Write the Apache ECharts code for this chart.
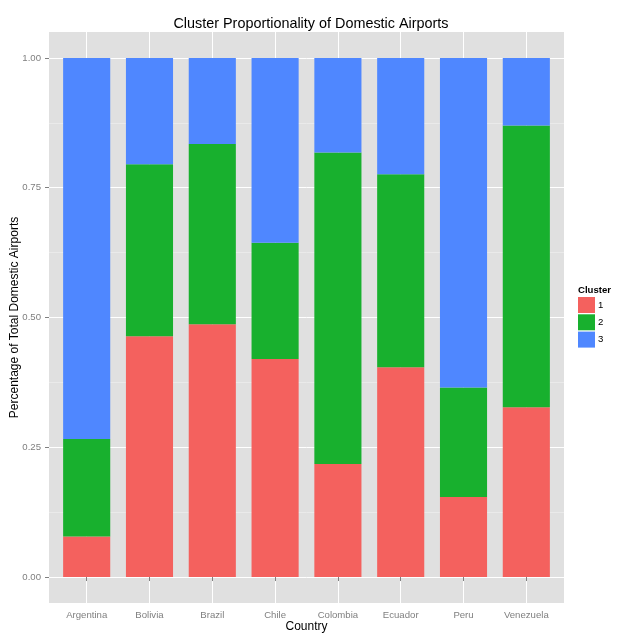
<!DOCTYPE html>
<html>
<head>
<meta charset="utf-8">
<script src="https://cdn.jsdelivr.net/npm/echarts@6/dist/echarts.min.js"></script>
<style>html,body{margin:0;padding:0;background:#fff}#c{width:640px;height:640px}</style>
</head>
<body>
<div id="c"></div>
<script>
const countries = ['Argentina','Bolivia','Brazil','Chile','Colombia','Ecuador','Peru','Venezuela'];
const cluster1 = [0.078, 0.464, 0.487, 0.420, 0.218, 0.404, 0.154, 0.327];
const cluster2 = [0.188, 0.331, 0.347, 0.224, 0.600, 0.372, 0.211, 0.543];
const cluster3 = [0.734, 0.205, 0.166, 0.356, 0.182, 0.224, 0.635, 0.130];
const yTicks = [0, 0.25, 0.5, 0.75, 1];
const yMinor = [0.125, 0.375, 0.625, 0.875];
const clusterNames = ['1','2','3'];
const colors = ['#F4615E', '#18B02E', '#4F87FF'];

const xPos = countries.map((c, i) => i + 1);
const chart = echarts.init(document.getElementById('c'), null, {renderer: 'canvas'});
const font = 'Liberation Sans, Arial, sans-serif';
// value first so that it is the stacked dimension; x position second
const mk = (vals, i) => ({
  name: clusterNames[i],
  type: 'bar',
  stack: 'total',
  barWidth: '75%',
  encode: {x: 1, y: 0},
  data: vals.map((v, k) => [v, xPos[k]]),
  itemStyle: {color: colors[i]},
  emphasis: {disabled: true},
  z: 3
});
chart.setOption({
  animation: false,
  backgroundColor: '#fff',
  title: {
    text: 'Cluster Proportionality of Domestic Airports',
    left: 306, top: 12, textAlign: 'center',
    textStyle: {fontFamily: font, fontSize: 14.4, fontWeight: 'normal', color: '#000'}
  },
  grid: {left: 49, right: 76, top: 32, bottom: 37, containLabel: false, outerBoundsMode: 'none',
    show: true, backgroundColor: '#E0E0E0', borderWidth: 0},
  legend: {
    orient: 'vertical', left: 578, top: 297, padding: 0,
    itemWidth: 17, itemHeight: 16, itemGap: 1.3, icon: 'rect',
    textStyle: {fontFamily: font, fontSize: 9.6, color: '#000', padding: [0,0,0,-2]},
    data: clusterNames
  },
  graphic: [{
    type: 'text', left: 578, top: 285,
    style: {text: 'Cluster', fontFamily: font, fontSize: 9.6, fontWeight: 'bold', fill: '#000'}
  }],
  xAxis: {
    type: 'value', min: 0.4, max: 8.6,
    name: 'Country', nameLocation: 'middle', nameGap: 18, nameMoveOverlap: false,
    nameTextStyle: {fontFamily: font, fontSize: 12, color: '#000'},
    axisLine: {show: false},
    axisTick: {show: true, customValues: xPos, length: 4, lineStyle: {color: '#7F7F7F'}},
    axisLabel: {customValues: xPos, formatter: v => countries[Math.round(v) - 1], margin: 7,
      fontFamily: font, fontSize: 9.6, color: '#7F7F7F'},
    splitLine: {show: true, lineStyle: {color: '#FFFFFF', width: 1}}
  },
  yAxis: [{
    type: 'value', min: -0.05, max: 1.05,
    name: 'Percentage of Total Domestic Airports', nameLocation: 'middle', nameGap: 28, nameMoveOverlap: false,
    nameTextStyle: {fontFamily: font, fontSize: 12, color: '#000'},
    axisLine: {show: false},
    axisTick: {show: true, customValues: yTicks, length: 4, lineStyle: {color: '#7F7F7F'}},
    axisLabel: {customValues: yTicks, formatter: v => v.toFixed(2), margin: 8,
      fontFamily: font, fontSize: 9.6, color: '#7F7F7F'},
    splitLine: {show: true, lineStyle: {color: '#FFFFFF', width: 1}}
  }, {
    type: 'value', min: -0.05, max: 1.05, position: 'left',
    axisLine: {show: false},
    axisTick: {show: false, customValues: yMinor},
    axisLabel: {show: false, customValues: yMinor},
    splitLine: {show: true, lineStyle: {color: '#F0F0F0', width: 0.6}}
  }],
  series: [mk(cluster1, 0), mk(cluster2, 1), mk(cluster3, 2)]
});
</script>
</body>
</html>
